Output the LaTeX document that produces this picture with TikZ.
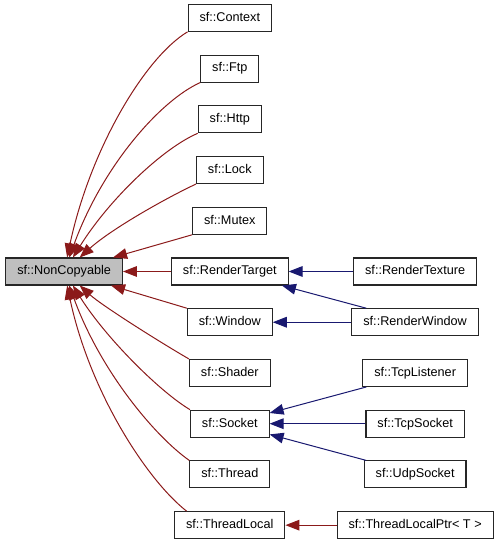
\documentclass[tikz,border=0pt]{standalone}
\usepackage{fontspec}
\setmainfont{Liberation Sans}
\usetikzlibrary{matrix,arrows.meta,positioning,calc}
\definecolor{inhred}{HTML}{8B1A1A}
\definecolor{inhblue}{HTML}{191970}

\begin{document}
\begin{tikzpicture}[x=0.75pt,y=0.75pt,
  cls/.style={draw=black!85,line width=0.8pt,fill=white,font=\fontsize{9.5}{11}\selectfont,
    text height=7pt,text depth=2pt,inner xsep=8.6pt,minimum height=20.25pt},
  rootcls/.style={fill=black!25},
  priv/.style={inhred,line width=0.75pt,-{Triangle[length=10.5pt,width=8pt]}},
  pub/.style={inhblue,line width=0.75pt,-{Triangle[length=10.5pt,width=8pt]}}]
\useasboundingbox (0,0) rectangle (499,544);
\matrix (m) [matrix of nodes, nodes={cls}, row sep=17pt, column sep=36pt] at (249.5,272.5)
{
 & sf::Context & \\
 & sf::Ftp & \\
 & sf::Http & \\
 & sf::Lock & \\
 & sf::Mutex & \\
|[rootcls]| sf::NonCopyable & sf::RenderTarget & sf::RenderTexture \\
 & sf::Window & sf::RenderWindow \\
 & sf::Shader & sf::TcpListener \\
 & sf::Socket & sf::TcpSocket \\
 & sf::Thread & sf::UdpSocket \\
 & sf::ThreadLocal & sf::ThreadLocalPtr< T > \\
};
\path[priv]
(m-1-2.south west) edge[out=211,in=78,out looseness=.5,in looseness=1.1] (m-6-1)
(m-2-2.south west) edge[out=204,in=70,out looseness=.5,in looseness=1.15] (m-6-1)
(m-3-2.south west) edge[out=203,in=58,out looseness=.55,in looseness=1] (m-6-1)
(m-4-2.south west) edge[out=205,in=42,out looseness=.6,in looseness=.8] (m-6-1)
(m-5-2.south west) edge (m-6-1)
(m-6-2) edge (m-6-1)
(m-7-2.north west) edge (m-6-1)
(m-8-2.north west) edge[out=150,in=-42,out looseness=.6,in looseness=.6] (m-6-1)
(m-9-2.north west) edge[out=149,in=-58,out looseness=.55,in looseness=.9] (m-6-1)
(m-10-2.north west) edge[out=145,in=-70,out looseness=.5,in looseness=1.1] (m-6-1)
(m-11-2.162) edge[out=142,in=-78,out looseness=.5,in looseness=1.1] (m-6-1)
(m-11-3) edge (m-11-2)
;
\path[pub]
(m-6-3) edge (m-6-2)
(m-7-3.164) edge (m-6-2)
(m-7-3) edge (m-7-2)
(m-8-3.196) edge (m-9-2)
(m-9-3) edge (m-9-2)
(m-10-3.164) edge (m-9-2)
;
\end{tikzpicture}
\end{document}
